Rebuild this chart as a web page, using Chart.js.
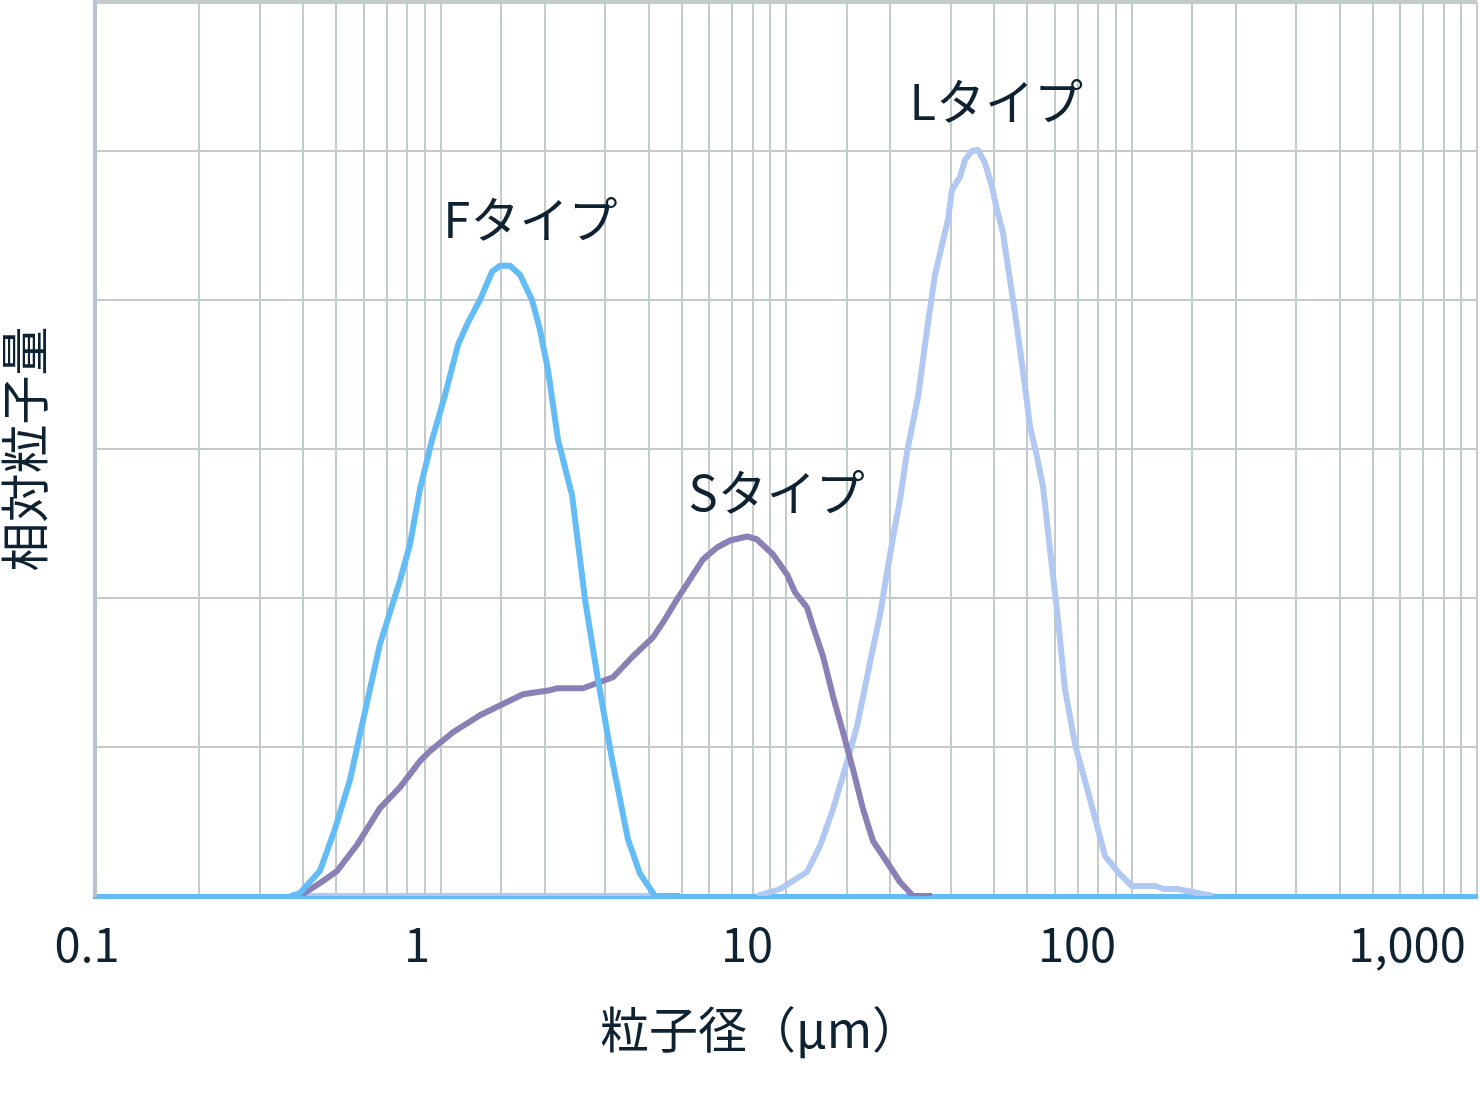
<!DOCTYPE html>
<html>
<head>
<meta charset="utf-8">
<script src="https://cdn.jsdelivr.net/npm/chart.js@4.4.1/dist/chart.umd.min.js"></script>
<style>
html, body { margin: 0; padding: 0; background: #fff; }
#wrap { width: 1480px; height: 1099px; }
</style>
</head>
<body>
<div id="wrap"><canvas id="psdChart" width="1480" height="1099"></canvas></div>
<script>
// particle size (um) and relative amount
const fSize = [0.367, 0.392, 0.448, 0.495, 0.547, 0.593, 0.668, 0.764, 0.816, 0.872, 0.945, 1.03, 1.124, 1.201, 1.301, 1.41, 1.487, 1.589, 1.699, 1.84, 1.941, 2.047, 2.189, 2.403, 2.62, 2.857, 3.135, 3.489, 3.779, 4.176, 4.934];
const fAmount = [0, 0.02, 0.17, 0.45, 0.78, 1.15, 1.69, 2.12, 2.36, 2.73, 3.06, 3.36, 3.70, 3.85, 4.00, 4.19, 4.23, 4.23, 4.17, 4.00, 3.80, 3.53, 3.06, 2.69, 1.99, 1.45, 0.92, 0.38, 0.15, 0, 0];

const sSize = [0.392, 0.448, 0.502, 0.573, 0.668, 0.764, 0.872, 0.932, 1.087, 1.301, 1.733, 2.074, 2.174, 2.585, 3.157, 3.607, 4.121, 4.406, 4.836, 5.274, 5.751, 6.315, 6.886, 7.713, 8.245, 9.171, 10.07, 10.62, 11.5, 11.97, 12.8, 13.68, 14.62, 15.63, 16.71, 17.86, 19.6, 21.38, 23.32, 26.47];
const sAmount = [0, 0.087, 0.168, 0.342, 0.59, 0.731, 0.905, 0.972, 1.099, 1.213, 1.354, 1.381, 1.394, 1.394, 1.468, 1.609, 1.736, 1.836, 1.991, 2.125, 2.259, 2.339, 2.386, 2.413, 2.393, 2.292, 2.158, 2.038, 1.937, 1.81, 1.609, 1.34, 1.099, 0.851, 0.583, 0.369, 0.228, 0.094, 0, 0];

const lSize = [0.40, 4.176, 6.0, 8.245, 9.607, 11.5, 12.54, 13.68, 15.02, 16.05, 17.51, 18.72, 20.0, 21.38, 22.39, 24.11, 25.59, 26.99, 29.43, 30.23, 31.89, 32.97, 34.54, 35.95, 37.67, 39.47, 40.8, 42.47, 43.9, 46.0, 47.57, 49.18, 50.84, 53.27, 55.45, 58.09, 61.27, 64.2, 68.62, 75.85, 83.83, 91.4, 100.3, 117.0, 124.2, 135.4, 172.1];
const lAmount = [0, 0, null, 0, 0.047, 0.161, 0.335, 0.583, 0.898, 1.139, 1.568, 1.89, 2.292, 2.661, 2.976, 3.351, 3.8, 4.169, 4.538, 4.739, 4.826, 4.94, 5.0, 5.007, 4.92, 4.759, 4.605, 4.45, 4.223, 3.914, 3.666, 3.418, 3.15, 2.949, 2.748, 2.326, 1.857, 1.387, 1.019, 0.65, 0.268, 0.161, 0.067, 0.067, 0.047, 0.047, 0];

const xTickLabels = ["0.1", "1", "10", "100", "1,000"];

const seriesNames = ["Fタイプ", "Sタイプ", "Lタイプ"];
const seriesColors = ["#64bcf6", "#8a80b6", "#b1c8f2"];

const FONT = "'Noto Sans CJK JP', 'Noto Sans', sans-serif";
const TEXT = "#0f2232";
const GRID = "#c4cbcd";

function toPoints(xs, ys) {
  return xs.map((x, i) => ({ x: x, y: ys[i] }));
}

// curve names placed in data units
const curveLabels = [
  { text: seriesNames[0], x: 1.82, y: 4.54 },
  { text: seriesNames[1], x: 9.4, y: 2.71 },
  { text: seriesNames[2], x: 40.6, y: 5.33 }
];

const curveLabelPlugin = {
  id: "curveLabels",
  afterDatasetsDraw(chart) {
    const ctx = chart.ctx;
    const xs = chart.scales.x;
    const ys = chart.scales.y;
    ctx.save();
    ctx.font = "49px " + FONT;
    ctx.fillStyle = TEXT;
    ctx.textAlign = "center";
    ctx.textBaseline = "middle";
    curveLabels.forEach(l => {
      ctx.fillText(l.text, xs.getPixelForValue(l.x), ys.getPixelForValue(l.y));
    });
    ctx.restore();
  }
};

const ctx = document.getElementById("psdChart").getContext("2d");

new Chart(ctx, {
  type: "scatter",
  data: {
    datasets: [
      { label: seriesNames[0], data: toPoints(fSize, fAmount) },
      { label: seriesNames[1], data: toPoints(sSize, sAmount) },
      { label: seriesNames[2], data: toPoints(lSize, lAmount) }
    ].map((d, i) => Object.assign(d, {
      showLine: true,
      spanGaps: false,
      borderColor: seriesColors[i],
      backgroundColor: seriesColors[i],
      borderWidth: 6,
      borderJoinStyle: "round",
      pointRadius: 0,
      pointHoverRadius: 0,
      tension: 0
    }))
  },
  options: {
    responsive: false,
    animation: false,
    events: [],
    layout: { padding: { top: 2, right: 3, left: 44, bottom: 0 } },
    plugins: {
      legend: { display: false },
      tooltip: { enabled: false },
      title: {
        display: true,
        position: "bottom",
        text: "粒子径（μm）",
        font: { family: FONT, size: 49, weight: "normal", lineHeight: 1.2 },
        color: TEXT,
        padding: { top: 0, bottom: 40 }
      }
    },
    scales: {
      x: {
        type: "logarithmic",
        position: "bottom",
        weight: 0,
        min: 0.1,
        max: 1000,
        ticks: { display: false },
        grid: { color: GRID, lineWidth: 2, drawTicks: false },
        border: { color: "#64bcf6", width: 5 },
        afterFit(s) { s.height = 0; }
      },
      xLabels: {
        type: "linear",
        position: "bottom",
        weight: 1,
        min: 0.0242,
        max: 4.212,
        afterBuildTicks(s) { s.ticks = xTickLabels.map((_, i) => ({ value: i })); },
        ticks: {
          callback: v => xTickLabels[v],
          font: { family: FONT, size: 47 },
          color: TEXT,
          padding: 20,
          maxRotation: 0,
          autoSkip: false
        },
        grid: { display: false, drawTicks: false },
        border: { display: false },
        afterFit(s) {
          s.height = 104.2;
          s.paddingLeft = 0;
          s.paddingRight = 0;
        }
      },
      y: {
        min: 0,
        max: 6,
        ticks: { display: false, stepSize: 1 },
        grid: {
          color: GRID,
          lineWidth: c => (c.tick && c.tick.value === 6 ? 4 : 2),
          drawTicks: false
        },
        border: { color: "#b9c3ca", width: 4 },
        title: {
          display: true,
          text: "相対粒子量",
          font: { family: FONT, size: 49 },
          color: TEXT,
          padding: { top: -49, bottom: 0 }
        },
        afterFit(s) { s.width = 51; }
      }
    }
  },
  plugins: [curveLabelPlugin]
});
</script>
</body>
</html>
